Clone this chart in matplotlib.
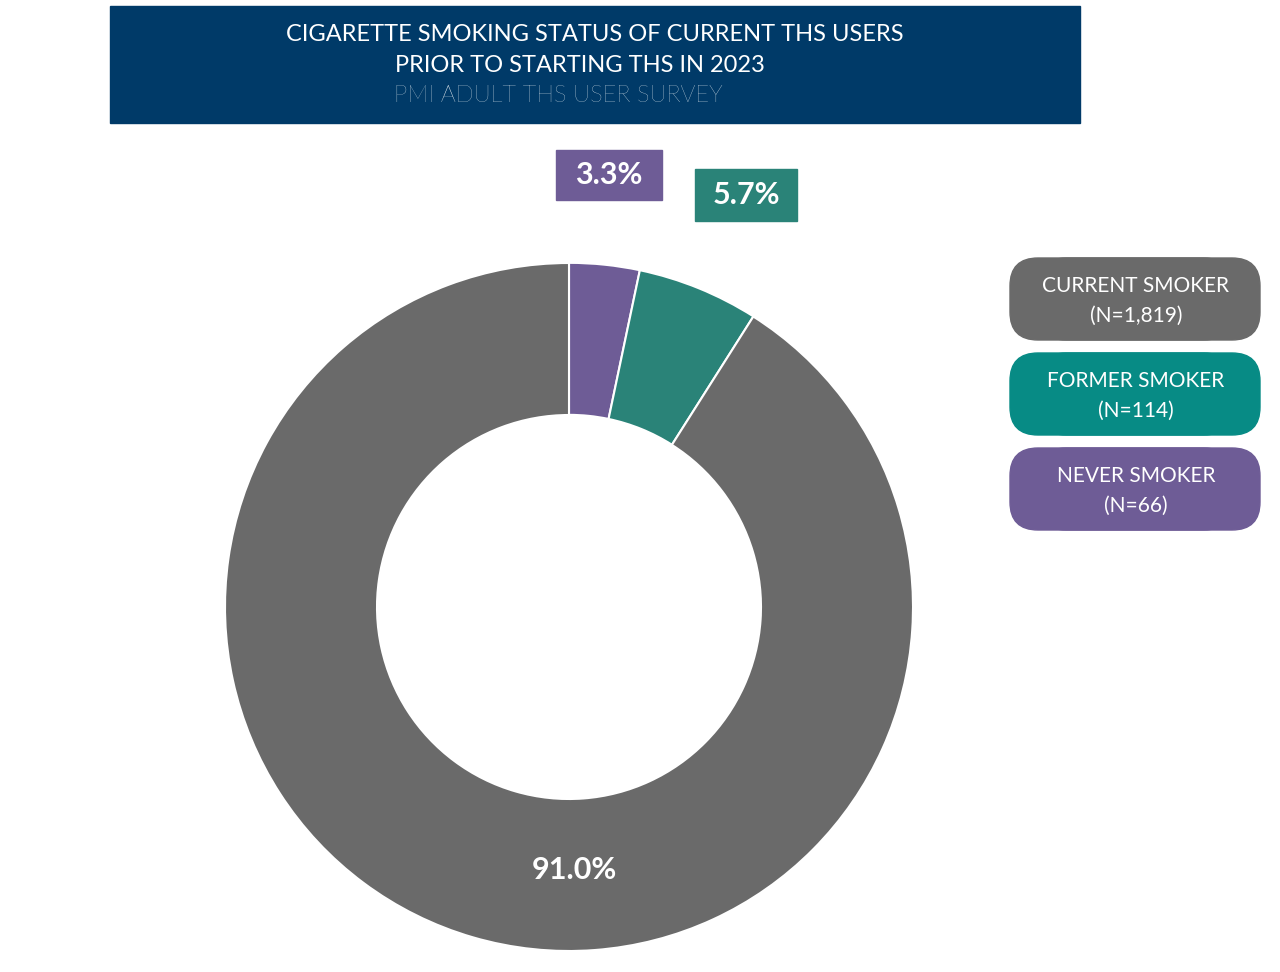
import matplotlib.pyplot as plt
from matplotlib.patches import FancyBboxPatch, Rectangle

categories = ["Never Smoker", "Former Smoker", "Current Smoker"]
shares = [3.3, 5.7, 91.0]
counts = ["66", "114", "1,819"]
colors = ["#6e5c96", "#2a8378", "#6a6a6a"]
legend_colors = {"Current Smoker": "#6a6a6a", "Former Smoker": "#078b85", "Never Smoker": "#6e5c96"}

W, H = 1280, 972
fig = plt.figure(figsize=(W / 100, H / 100), dpi=100)
ax = fig.add_axes([0, 0, 1, 1])
ax.set_xlim(0, W)
ax.set_ylim(0, H)
ax.set_aspect("equal")
ax.axis("off")
plt.rcParams["font.family"] = "Lato"

def y(p):
    return H - p

# donut
R = 344
ax.pie(shares, colors=colors, startangle=90, counterclock=False,
       center=(569, y(607)), radius=R, explode=[0.15, 0.15, 0],
       wedgeprops=dict(width=152, edgecolor="white", linewidth=1.5),
       frame=True)
ax.set_xlim(0, W)
ax.set_ylim(0, H)
ax.axis("off")

# value labels
for (cx, cy, w, h, col, txt) in [(609, 175, 106, 50, colors[0], f"{shares[0]}%"),
                                 (746, 195, 102, 52, colors[1], f"{shares[1]}%")]:
    ax.add_patch(Rectangle((cx - w / 2, y(cy) - h / 2), w, h, color=col, zorder=3))
    ax.text(cx, y(cy), txt, color="white", fontsize=22, fontweight="bold",
            ha="center", va="center", zorder=4)
ax.text(574, y(870), f"{shares[2]}%", color="white", fontsize=22,
        fontweight="bold", ha="center", va="center")

# title
ax.add_patch(Rectangle((110, y(123)), 970, 117, color="#003a68", zorder=3))
ax.text(595, y(35), "CIGARETTE SMOKING STATUS OF CURRENT THS USERS",
        color="white", fontsize=17, ha="center", va="center", zorder=4)
ax.text(580, y(66), "PRIOR TO STARTING THS IN 2023",
        color="white", fontsize=17, ha="center", va="center", zorder=4)
ax.text(558, y(96), "PMI ADULT THS USER SURVEY",
        color="white", fontsize=17, fontweight="light", ha="center", va="center", zorder=4)

# legend
for i, name in enumerate(["Current Smoker", "Former Smoker", "Never Smoker"]):
    n = counts[categories.index(name)]
    top = 258 + i * 95
    ax.add_patch(FancyBboxPatch((1010 + 28, y(top + 82) + 0), 250 - 56, 82,
                                boxstyle="round,pad=0,rounding_size=28",
                                mutation_aspect=1, color=legend_colors[name]))
    ax.add_patch(FancyBboxPatch((1010, y(top + 82)), 250, 82,
                                boxstyle="round,pad=0,rounding_size=28",
                                color=legend_colors[name]))
    ax.text(1136, y(top + 28), name.upper(), color="white", fontsize=15,
            ha="center", va="center")
    ax.text(1136, y(top + 58), f"(N={n})", color="white", fontsize=15,
            ha="center", va="center")

fig.savefig("out.png", dpi=100)
